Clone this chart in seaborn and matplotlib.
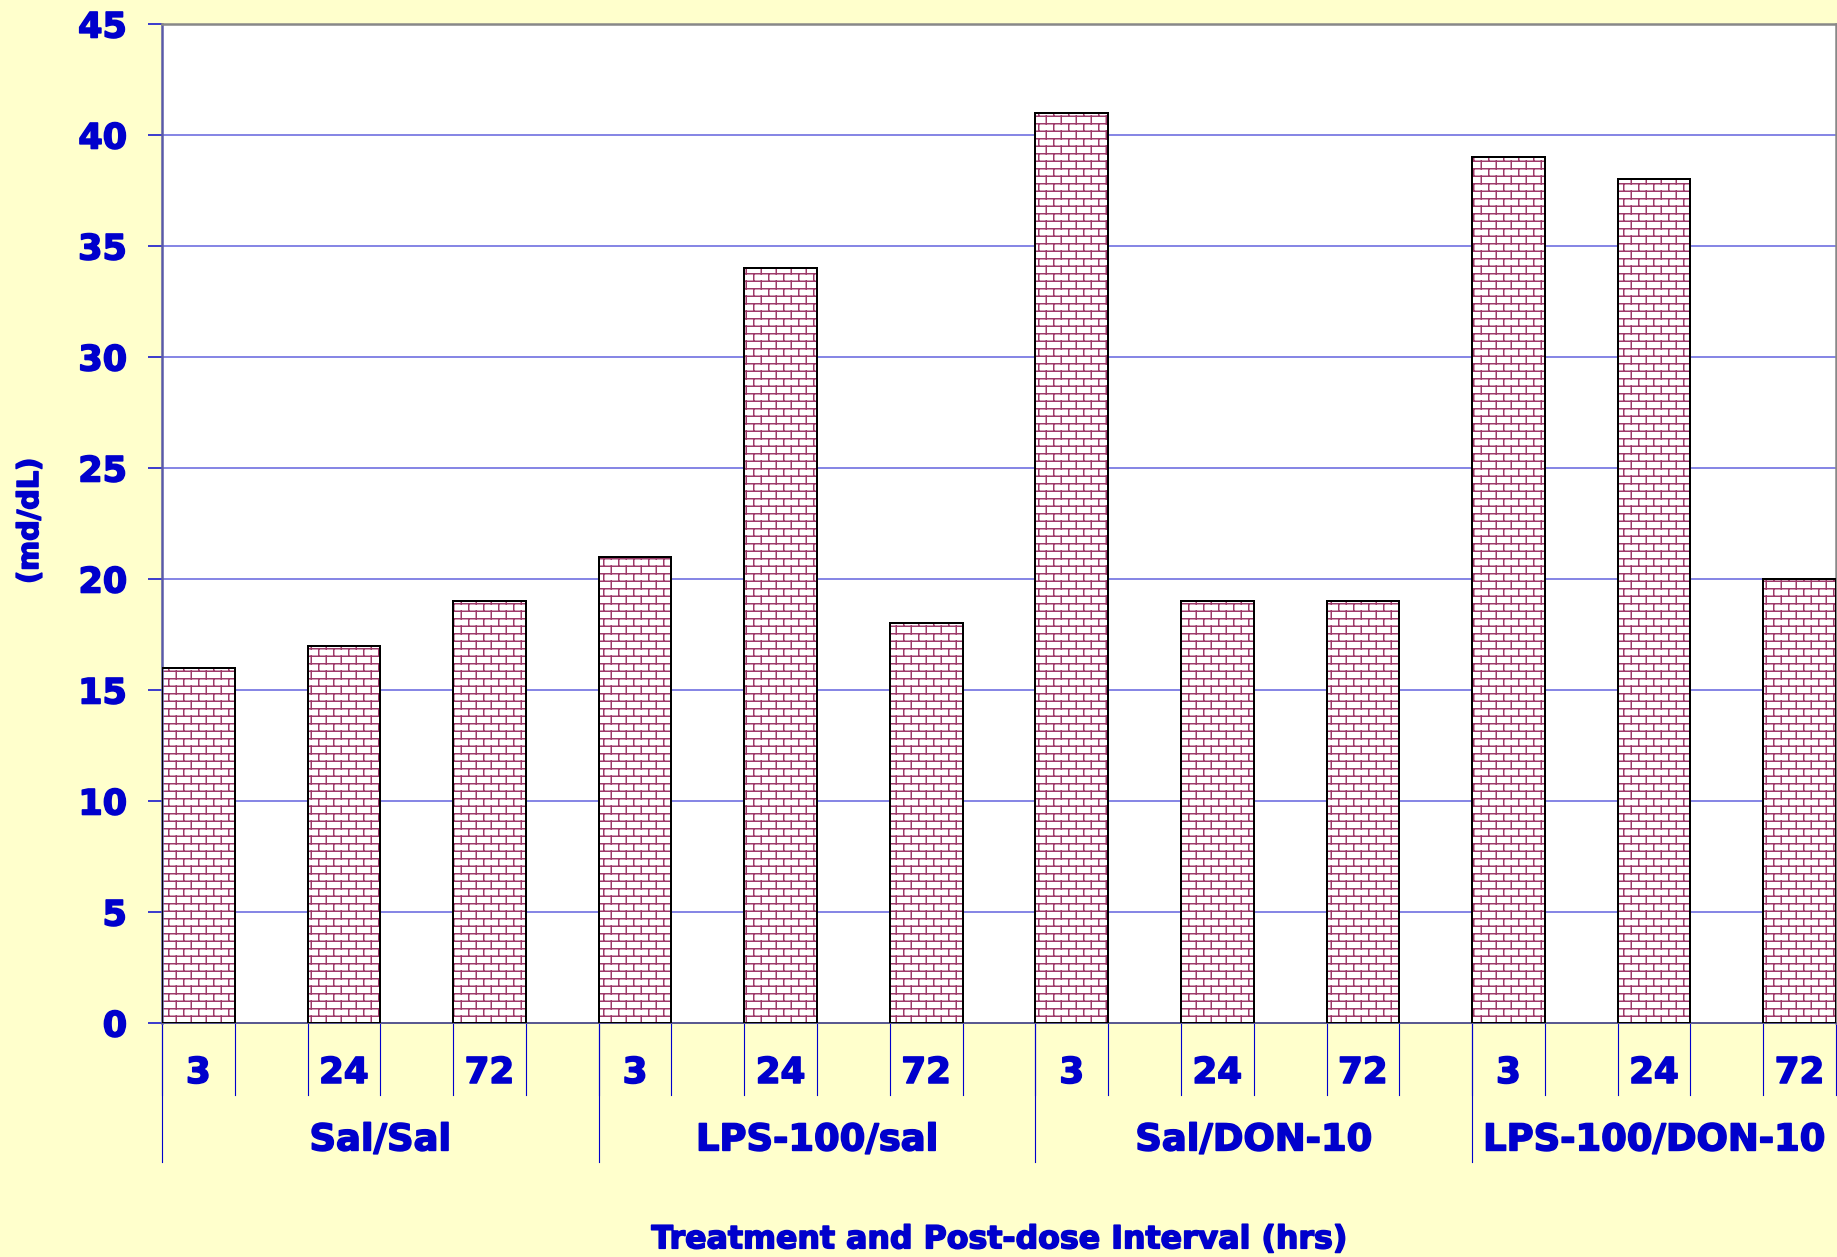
import numpy as np
import pandas as pd
import matplotlib
matplotlib.use("Agg")
import matplotlib.pyplot as plt
import matplotlib.hatch as mhatch
import matplotlib.transforms as mtransforms
import matplotlib.patheffects as pe
from matplotlib.path import Path
import seaborn as sns

# data
groups = ["Sal/Sal", "LPS-100/sal", "Sal/DON-10", "LPS-100/DON-10"]
hours = ["3", "24", "72"]
values = [16, 17, 19, 21, 34, 18, 41, 19, 19, 39, 38, 20]

BLUE = "#0000cc"
BRICK = "#9e3a6a"
PANEL = "#ffffcc"
HEAVY = [pe.withStroke(linewidth=1.3, foreground=BLUE)]


class BrickHatch(mhatch.HatchPatternBase):
    """brick wall pattern, used for the '-' hatch"""
    rows, cols = 12, 6

    def __init__(self, hatch, density):
        self.on = hatch.count("-") > 0
        n = self.rows + self.rows * self.cols + self.cols
        self.num_vertices = 2 * n if self.on else 0

    def set_vertices_and_codes(self, vertices, codes):
        r, c = self.rows, self.cols
        segs = []
        for i in range(r):
            y = (i + 0.5) / r
            segs.append(((0.0, y), (1.0, y)))
            shift = 0.5 / c if i % 2 else 0.0
            for j in range(c):
                x = (j + 0.25) / c + shift
                segs.append(((x, y), (x, y + 1.0 / r)))
        # wrap of the top row into the tile bottom
        shift = 0.5 / c if (r - 1) % 2 else 0.0
        for j in range(c):
            x = (j + 0.25) / c + shift
            segs.append(((x, 0.0), (x, 0.5 / r)))
        pts = np.array(segs).reshape(-1, 2)
        vertices[:] = pts
        codes[0::2] = Path.MOVETO
        codes[1::2] = Path.LINETO


mhatch._hatch_types = [BrickHatch]

plt.rcParams["font.family"] = ["DejaVu Sans"]
plt.rcParams["font.weight"] = "bold"
plt.rcParams["hatch.linewidth"] = 1.2

df = pd.DataFrame({
    "slot": np.arange(len(values)),
    "group": np.repeat(groups, len(hours)),
    "hour": hours * len(groups),
    "value": values,
})

DPI = 90
fig = plt.figure(figsize=(1837 / DPI, 1257 / DPI), dpi=DPI, facecolor=PANEL)
ax = fig.add_axes([162 / 1837, 1 - 1023 / 1257, 1674 / 1837, 999 / 1257])
ax.set_facecolor("white")

# brick fill
sns.barplot(data=df, x="slot", y="value", color="white", saturation=1,
            width=0.5, edgecolor=BRICK, linewidth=0, hatch="-",
            errorbar=None, ax=ax, zorder=2)
# black outline on top
sns.barplot(data=df, x="slot", y="value", color="black", fill=False,
            width=0.5, linewidth=1.6, errorbar=None, ax=ax, zorder=3)

ax.set_xlim(-0.25, len(values) - 0.75)
ax.set_ylim(0, 45)
ax.set_yticks(np.arange(0, 46, 5))
ax.set_xticks([])
ax.set_xlabel("")
ax.set_ylabel("")

ax.set_axisbelow(True)
ax.yaxis.grid(True, color="#6c6ce0", linewidth=1.3)
ax.tick_params(axis="y", length=11, width=1.2, color=BLUE, pad=17,
               labelsize=28, labelcolor=BLUE)
for lbl in ax.get_yticklabels():
    lbl.set_path_effects(HEAVY)

for side in ["top", "right"]:
    ax.spines[side].set_color("#888888")
    ax.spines[side].set_linewidth(2)
ax.spines["left"].set_color("#5a5aa8")
ax.spines["left"].set_linewidth(2)
ax.spines["bottom"].set_color("#5a5a90")
ax.spines["bottom"].set_linewidth(1.6)

# multi-level category axis below the plot
trans = mtransforms.blended_transform_factory(ax.transData, ax.transAxes)
bars = ax.patches[:len(values)]
for k, bar in enumerate(bars):
    x0 = bar.get_x()
    x1 = x0 + bar.get_width()
    for xx in (x0, x1):
        ax.plot([xx, xx], [0, -0.072], transform=trans, color=BLUE,
                lw=0.9, clip_on=False)
    ax.text(x0 + bar.get_width() / 2, -0.050, df["hour"][k], transform=trans,
            ha="center", va="center", fontsize=28.5, color=BLUE,
            path_effects=HEAVY)

n = len(hours)
xmax = ax.get_xlim()[1]
for g, name in enumerate(groups):
    start = bars[g * n].get_x()
    end = bars[(g + 1) * n].get_x() if g + 1 < len(groups) else xmax
    ax.plot([start, start], [0, -0.139], transform=trans, color=BLUE,
            lw=0.9, clip_on=False)
    ax.text((start + end) / 2, -0.117, name, transform=trans,
            ha="center", va="center", fontsize=29.5, color=BLUE,
            path_effects=HEAVY)

ax.text(0.5, -0.217, "Treatment and Post-dose Interval (hrs)",
        transform=ax.transAxes, ha="center", va="center",
        fontsize=25.3, color=BLUE, path_effects=HEAVY)
fig.text(30 / 1837, 1 - 521 / 1257, "(md/dL)", rotation=90,
         ha="center", va="center", fontsize=23, color=BLUE,
         path_effects=HEAVY)

fig.savefig("out.png", dpi=DPI, facecolor=PANEL)
